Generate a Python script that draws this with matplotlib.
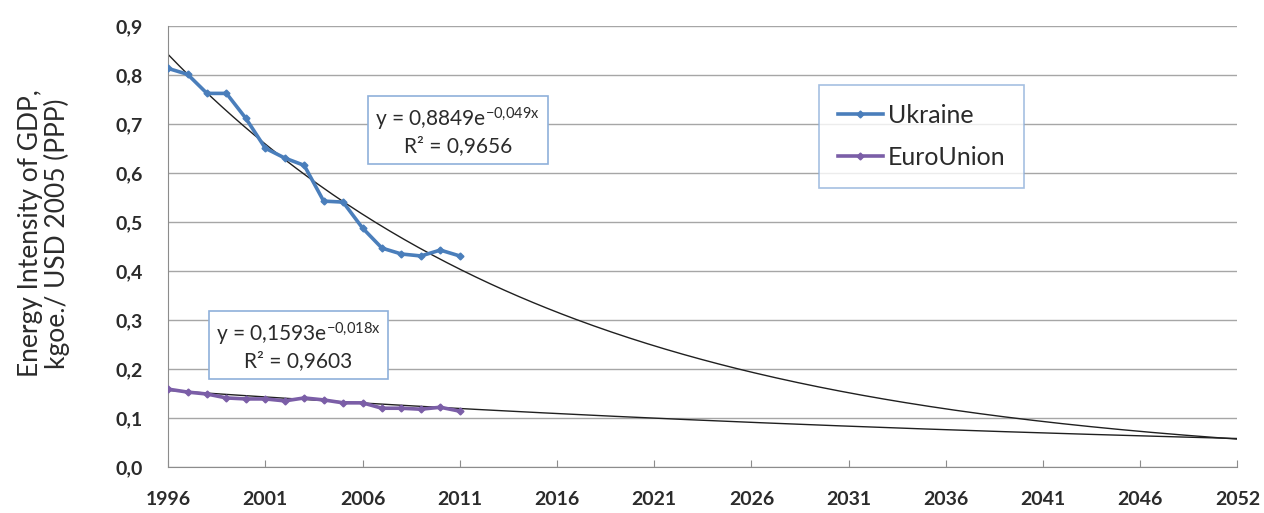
#!/usr/bin/env python

""" energy intensity of GDP, Ukraine vs EU, with exponential trends """

import numpy as np
import matplotlib.pyplot as plt

years = np.arange(1996, 2012)
ukraine = [0.814, 0.802, 0.763, 0.763, 0.712, 0.651, 0.631, 0.616,
           0.543, 0.541, 0.488, 0.447, 0.435, 0.431, 0.443, 0.431]
euro_union = [0.159, 0.153, 0.149, 0.141, 0.139, 0.139, 0.135, 0.141,
              0.137, 0.131, 0.131, 0.120, 0.120, 0.118, 0.122, 0.114]

# Excel trendline coefficients (y = a * exp(b * x), x = 1 for 1996)
ukr_a, ukr_b, ukr_r2 = 0.8849, -0.049, "0,9656"
eu_a, eu_b, eu_r2 = 0.1593, -0.018, "0,9603"

tick_years = np.arange(1996, 2052, 5)
tick_labels = ["1996", "2001", "2006", "2011", "2016", "2021", "2026",
               "2031", "2036", "2041", "2046", "2052"]
y_ticks = np.arange(0, 0.91, 0.1)


def main():
    plt.rcParams['font.family'] = ['Lato', 'DejaVu Sans']
    plt.rcParams['mathtext.fontset'] = 'custom'
    plt.rcParams['mathtext.rm'] = 'Lato'
    plt.rcParams['mathtext.default'] = 'regular'

    fig = plt.figure(figsize=(12.64, 5.13), dpi=100)
    ax = fig.add_axes([0.133, 0.0897, 0.846, 0.859])

    blue = "#4a7ebb"
    purple = "#7b5ea7"
    txt = "#2b2b2b"

    # trends run out to the end of the axis
    xt = np.linspace(1, 56, 300)
    ax.plot(xt + 1995, ukr_a * np.exp(ukr_b * xt), color="#202020", lw=1.0,
            zorder=2)
    ax.plot(xt + 1995, eu_a * np.exp(eu_b * xt), color="#202020", lw=1.0,
            zorder=2)

    ax.plot(years, ukraine, "-", color=blue, lw=2.6, marker="D", ms=3.5,
            label="Ukraine", zorder=3)
    ax.plot(years, euro_union, "-", color=purple, lw=2.6, marker="D", ms=3.5,
            label="EuroUnion", zorder=3)

    ax.set_xlim(1996, 2051)
    ax.set_ylim(0, 0.9)
    ax.set_xticks(tick_years)
    ax.set_xticklabels(tick_labels)
    ax.set_yticks(y_ticks)
    ax.set_yticklabels([("%.1f" % v).replace(".", ",") for v in y_ticks])

    ax.yaxis.grid(True, color="#a6a6a6", lw=1.0)
    ax.set_axisbelow(True)
    for side in ("top", "right"):
        ax.spines[side].set_visible(False)
    for side in ("left", "bottom"):
        ax.spines[side].set_color("#8c8c8c")
    ax.tick_params(axis="x", direction="in", length=5, color="#8c8c8c",
                   labelsize=14, labelcolor=txt, pad=17)
    ax.tick_params(axis="y", length=0, labelsize=14, labelcolor=txt, pad=18)
    for lab in ax.get_xticklabels() + ax.get_yticklabels():
        lab.set_fontweight("bold")

    ax.set_ylabel("Energy Intensity of GDP,\nkgoe./ USD 2005 (PPP)",
                  fontsize=19, color=txt, linespacing=1.05,
                  va="center", ha="center")
    ax.yaxis.set_label_coords(-0.116, 0.53)

    box = dict(boxstyle="square,pad=0.35", fc="white", ec="#8fb0da", lw=1.2)
    ax.text(2010.9, 0.686,
            "y = 0,8849e$^{\\mathrm{-0{,}049x}}$\nR\u00b2 = 0,9656",
            fontsize=15, color=txt, ha="center", va="center",
            multialignment="center", bbox=box, zorder=4)
    ax.text(2002.7, 0.247,
            "y = 0,1593e$^{\\mathrm{-0{,}018x}}$\nR\u00b2 = 0,9603",
            fontsize=15, color=txt, ha="center", va="center",
            multialignment="center", bbox=box, zorder=4)

    leg = ax.legend(loc="upper left", bbox_to_anchor=(0.6085, 0.866),
                    fontsize=18, frameon=True, fancybox=False,
                    handlelength=1.8, handletextpad=0.2, borderpad=0.75,
                    labelspacing=0.75, borderaxespad=0)
    leg.get_frame().set_edgecolor("#8fb0da")
    leg.get_frame().set_linewidth(1.2)
    for t in leg.get_texts():
        t.set_color(txt)

    fig.savefig("out.png", dpi=100)


if __name__ == "__main__":
    main()
